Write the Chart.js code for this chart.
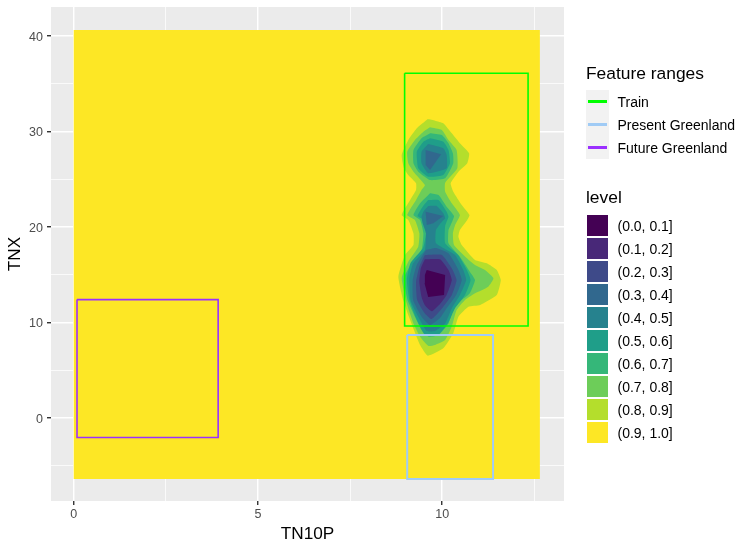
<!DOCTYPE html>
<html>
<head>
<meta charset="utf-8">
<title>Feature ranges</title>
<script src="https://cdn.jsdelivr.net/npm/chart.js@4"></script>
<style>
  body { margin: 0; background: #fff; font-family: "Liberation Sans", Arial, sans-serif; }
  #wrap { position: relative; width: 750px; height: 550px; overflow: hidden; }
  #wrap div { position: absolute; white-space: nowrap; color: #000; }
  .legend-title { font-size: 17.4px; line-height: 20px; }
  .legend-label { font-size: 14px; line-height: 16px; }
</style>
</head>
<body>
<div id="wrap"><canvas id="chart" width="750" height="550"></canvas></div>
<script>
// axis ticks
const xTicks = [0, 2.5, 5, 7.5, 10, 12.5];
const yTicks = [-5, 0, 5, 10, 15, 20, 25, 30, 35, 40];
const xMajor = [0, 5, 10];
const yMajor = [0, 10, 20, 30, 40];

// feature range boxes, x then y
const trainX = [8.98, 12.33, 12.33, 8.98, 8.98];
const trainY = [36.1, 36.1, 9.63, 9.63, 36.1];
const presentX = [9.05, 11.38, 11.38, 9.05, 9.05];
const presentY = [8.69, 8.69, -6.39, -6.39, 8.69];
const futureX = [0.09, 3.92, 3.92, 0.09, 0.09];
const futureY = [12.4, 12.4, -2.04, -2.04, 12.4];

// (0.9, 1.0] covers the whole grid
const level9 = [[0, 40.63], [12.65, 40.63], [12.65, -6.39], [0, -6.39]];

// contour outlines
const level8 = [[9.61,31.31],[9.81,31.13],[10.03,30.86],[10.26,29.81],[10.48,28.77],[10.73,27.72],[10.68,26.67],[10.44,25.79],[10.23,24.58],[10.30,23.70],[10.53,22.31],[10.74,21.26],[10.68,20.74],[10.48,19.69],[10.44,18.99],[10.53,18.12],[10.89,16.55],[11.21,16.20],[11.48,15.50],[11.59,14.45],[11.48,12.88],[11.03,11.84],[10.71,11.66],[10.44,10.61],[10.30,8.87],[10.03,7.30],[9.61,6.53],[9.40,7.65],[9.13,10.27],[8.94,12.36],[8.81,14.80],[8.99,17.07],[9.22,18.12],[9.22,19.34],[9.08,20.74],[8.90,21.26],[9.13,22.83],[9.29,23.88],[9.29,24.58],[9.08,25.45],[8.96,26.18],[8.90,27.54],[9.08,29.11],[9.31,30.34]];
const level7 = [[9.67,30.44],[9.99,30.16],[10.17,29.11],[10.39,28.07],[10.41,26.15],[10.08,24.64],[10.08,23.70],[10.26,22.48],[10.48,21.26],[10.35,20.21],[10.29,19.34],[10.32,18.12],[10.67,16.73],[10.89,16.02],[11.16,15.50],[11.39,14.63],[11.25,13.75],[10.89,13.06],[10.62,12.36],[10.39,11.31],[10.26,9.57],[10.08,8.17],[9.80,7.65],[9.63,7.54],[9.40,8.52],[9.22,9.91],[9.04,12.0],[8.90,14.66],[9.08,16.37],[9.35,17.94],[9.38,19.34],[9.26,20.74],[9.05,21.26],[9.29,22.83],[9.44,23.88],[9.53,24.40],[9.22,25.79],[9.08,26.67],[9.05,27.89],[9.26,29.11],[9.49,29.98]];
const level6Top = [[9.67,29.81],[9.99,29.63],[10.17,28.77],[10.29,27.72],[10.30,26.67],[10.08,25.10],[9.67,24.92],[9.35,25.79],[9.22,26.67],[9.22,28.07],[9.44,29.29]];
const level6Low = [[9.67,23.53],[9.90,23.35],[10.12,22.13],[10.32,21.16],[10.23,20.21],[10.17,19.69],[10.17,18.30],[10.48,16.89],[10.75,15.32],[10.89,14.45],[10.75,13.06],[10.53,12.36],[10.30,11.31],[10.17,9.91],[9.90,8.70],[9.63,8.52],[9.44,9.22],[9.26,10.61],[9.06,12.36],[8.96,14.63],[9.17,16.20],[9.44,17.59],[9.49,19.34],[9.40,20.74],[9.22,21.26],[9.40,22.48]];
const level5Top = [[9.67,29.29],[10.03,28.93],[10.17,28.07],[10.21,26.67],[10.03,25.45],[9.62,25.27],[9.35,26.15],[9.31,27.89],[9.49,28.93]];
const level5Low = [[9.62,22.83],[9.90,22.83],[10.12,21.60],[10.17,21.08],[10.08,20.11],[10.08,18.30],[10.43,17.07],[10.67,15.50],[10.77,14.45],[10.62,12.88],[10.35,11.52],[10.16,9.95],[9.89,8.70],[9.53,8.70],[9.29,10.47],[9.11,12.36],[9.04,14.45],[9.14,16.23],[9.48,17.80],[9.56,19.34],[9.50,20.74],[9.33,21.16],[9.47,22.13]];
const level4Top = [[9.62,28.69],[10.03,28.24],[10.12,27.54],[10.12,26.15],[9.62,25.63],[9.44,26.67],[9.44,27.89]];
const level4Low = [[9.62,22.20],[9.85,22.20],[10.03,21.44],[10.08,20.91],[9.99,20.56],[9.83,19.69],[9.83,18.30],[10.35,17.07],[10.57,15.50],[10.65,14.45],[10.48,12.88],[10.26,11.49],[10.08,9.91],[9.80,9.11],[9.58,9.11],[9.35,10.61],[9.14,12.36],[9.11,14.63],[9.21,16.20],[9.53,17.59],[9.56,19.34],[9.47,20.39],[9.44,21.08],[9.49,21.60]];
const level3Top = [[9.55,28.07],[9.97,27.61],[9.67,25.97],[9.55,26.49]];
const level3Mid = [[9.55,21.60],[10.03,21.16],[9.76,20.39],[9.58,20.21]];
const level3Low = [[9.56,17.59],[9.83,17.80],[10.17,17.25],[10.44,15.50],[10.53,14.45],[10.38,12.88],[10.12,11.49],[9.94,10.47],[9.67,9.74],[9.44,10.61],[9.21,12.36],[9.20,14.45],[9.31,16.02]];
const level2 = [[9.53,17.07],[9.99,17.07],[10.26,15.68],[10.39,14.45],[10.26,12.88],[10.03,11.66],[9.85,10.85],[9.70,10.36],[9.52,10.99],[9.32,12.36],[9.29,14.27],[9.38,15.85]];
const level1 = [[9.53,16.62],[9.94,16.62],[10.17,15.50],[10.26,14.45],[10.12,12.88],[9.94,11.94],[9.72,11.19],[9.53,11.82],[9.44,12.67],[9.38,14.27],[9.42,15.68]];
const level0 = [[9.58,15.50],[10.08,14.97],[10.05,12.88],[9.62,12.66],[9.52,14.11],[9.53,14.97]];

// legend text and colours
const rangeNames = ['Train', 'Present Greenland', 'Future Greenland'];
const rangeColors = ['#00FF00', '#A0CBF5', '#9B30FF'];
const levelNames = ['(0.0, 0.1]', '(0.1, 0.2]', '(0.2, 0.3]', '(0.3, 0.4]', '(0.4, 0.5]', '(0.5, 0.6]', '(0.6, 0.7]', '(0.7, 0.8]', '(0.8, 0.9]', '(0.9, 1.0]'];
const levelColors = ['#440154', '#482878', '#3E4A89', '#31688E', '#26828E', '#1F9E89', '#35B779', '#6DCD59', '#B4DE2C', '#FDE725'];

function ring(points, colorIdx, bend) {
  return {
    data: points.concat([points[0]]).map(p => ({ x: p[0], y: p[1] })),
    showLine: true,
    fill: 'shape',
    backgroundColor: levelColors[colorIdx],
    borderWidth: 0,
    pointRadius: 0,
    tension: bend === undefined ? 0.15 : bend
  };
}

function box(xs, ys, color, width) {
  return {
    data: xs.map((x, i) => ({ x: x, y: ys[i] })),
    showLine: true,
    fill: false,
    borderColor: color,
    borderWidth: width,
    pointRadius: 0,
    tension: 0
  };
}

// first dataset ends up on top
const datasets = [
  box(futureX, futureY, rangeColors[2], 1.6),
  box(presentX, presentY, rangeColors[1], 2),
  box(trainX, trainY, rangeColors[0], 1.6),
  ring(level0, 0, 0),
  ring(level1, 1),
  ring(level2, 2),
  ring(level3Top, 3, 0), ring(level3Mid, 3, 0), ring(level3Low, 3),
  ring(level4Top, 4), ring(level4Low, 4),
  ring(level5Top, 5), ring(level5Low, 5),
  ring(level6Top, 6), ring(level6Low, 6),
  ring(level7, 7),
  ring(level8, 8),
  ring(level9, 9, 0)
];

const panelBg = {
  id: 'panelBg',
  beforeDraw(chart) {
    const a = chart.chartArea;
    chart.ctx.fillStyle = '#EBEBEB';
    chart.ctx.fillRect(a.left, a.top, a.width, a.height);
  }
};

function axis(ticks, major, min, max, title, titlePad, tickPad, labelShift, fitFn) {
  return {
    type: 'linear',
    min: min,
    max: max,
    afterBuildTicks(scale) { scale.ticks = ticks.map(v => ({ value: v })); },
    afterFit: fitFn,
    border: { display: false },
    grid: {
      color: '#FFFFFF',
      lineWidth: ctx => major.includes(ctx.tick.value) ? 1.45 : 0.72,
      tickColor: ctx => major.includes(ctx.tick.value) ? '#333333' : 'rgba(0,0,0,0)',
      tickWidth: 1.4,
      tickLength: 4
    },
    ticks: {
      autoSkip: false,
      maxRotation: 0,
      padding: tickPad,
      labelOffset: labelShift,
      color: '#4D4D4D',
      font: { family: '"Liberation Sans"', size: 12.5 },
      callback: v => major.includes(v) ? String(v) : ''
    },
    title: {
      display: true,
      text: title,
      color: '#000000',
      font: { family: '"Liberation Sans"', size: 17.2 },
      padding: titlePad
    }
  };
}

new Chart(document.getElementById('chart'), {
  type: 'scatter',
  data: { datasets: datasets },
  plugins: [panelBg],
  options: {
    responsive: false,
    animation: false,
    layout: { padding: { left: 0, top: 7, right: 186, bottom: 0 } },
    plugins: { legend: { display: false }, tooltip: { enabled: false } },
    scales: {
      x: axis(xTicks, xMajor, -0.616, 13.305, 'TN10P', { top: 0, bottom: 5 }, 2, 0, s => {
        s.height = 49;
        s.paddingLeft = 0;
        s.paddingRight = 0;
      }),
      y: axis(yTicks, yMajor, -8.69, 43.04, 'TNX', { top: 5, bottom: 0 }, 4, 1.5, s => {
        s.width = 51;
        s.paddingTop = 0;
        s.paddingBottom = 0;
      })
    }
  }
});

// legends
const wrap = document.getElementById('wrap');

function addDiv(cls, text, left, top, css) {
  const d = document.createElement('div');
  if (cls) d.className = cls;
  if (text) d.textContent = text;
  d.style.left = left + 'px';
  d.style.top = top + 'px';
  Object.assign(d.style, css || {});
  wrap.appendChild(d);
}

addDiv('legend-title', 'Feature ranges', 586, 63);
addDiv('', '', 586, 90, { width: '23px', height: '69px', background: '#F2F2F2' });
rangeNames.forEach((name, i) => {
  addDiv('', '', 588, 100 + i * 23, { width: '19px', height: '3px', background: rangeColors[i] });
  addDiv('legend-label', name, 617.5, 94 + i * 23);
});

addDiv('legend-title', 'level', 586, 187);
levelNames.forEach((name, i) => {
  addDiv('', '', 587, 215 + i * 23, { width: '21px', height: '21px', background: levelColors[i] });
  addDiv('legend-label', name, 617.5, 218 + i * 23);
});
</script>
</body>
</html>
